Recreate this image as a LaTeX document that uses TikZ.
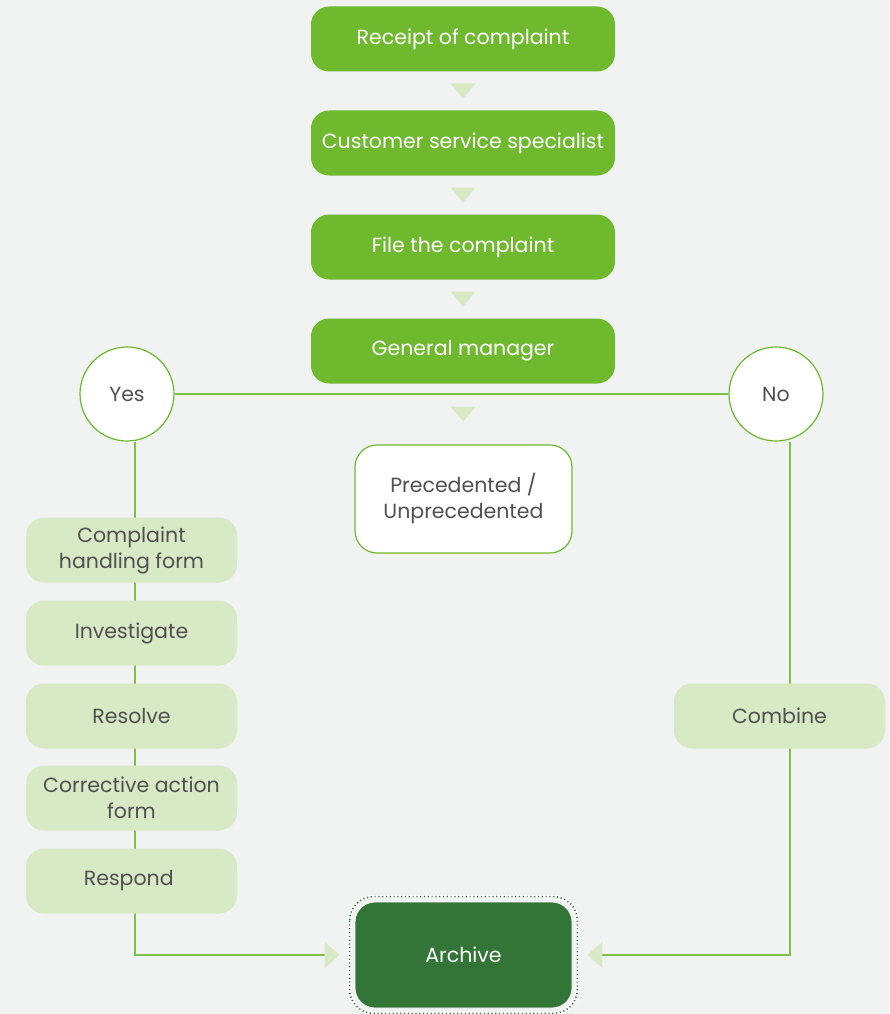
\documentclass[tikz,border=0pt]{standalone}
\usepackage{fontspec}
\setmainfont{Poppins}
\usetikzlibrary{arrows.meta,calc}

\definecolor{bggray}{HTML}{F1F3F2}
\definecolor{leaf}{HTML}{6FB92E}
\definecolor{linegreen}{HTML}{7DC243}
\definecolor{pale}{HTML}{D7E9C5}
\definecolor{forest}{HTML}{337536}
\definecolor{ink}{HTML}{505050}

\pgfdeclarelayer{back}
\pgfdeclarelayer{links}
\pgfsetlayers{back,links,main}

\begin{document}
\begin{tikzpicture}[x=1pt, y=-1pt,
  txt/.style={font=\fontsize{20.5}{26}\selectfont},
  mainbox/.style={txt, rounded corners=18pt, fill=leaf, text=white,
    minimum width=304pt, minimum height=65pt},
  sidebox/.style={txt, rounded corners=18pt, fill=pale, text=ink, align=center,
    minimum width=211pt, minimum height=65pt},
  answer/.style={txt, circle, draw=leaf, line width=1.2pt, fill=white, text=ink,
    minimum size=94pt},
  link/.style={draw=linegreen, line width=1.3pt},
  arrowtip/.style={-{Triangle[length=15pt, width=26pt, color=pale]}, shorten >=15pt}
]

  % page
  \useasboundingbox (0,0) rectangle (889,1014);
  \begin{pgfonlayer}{back}
    \fill[bggray] (0,0) rectangle (889,1014);
  \end{pgfonlayer}

  % main column
  \node[mainbox] (receipt)  at (463,39)  {Receipt of complaint};
  \node[mainbox] (customer) at (463,143) {Customer service specialist};
  \node[mainbox] (file)     at (463,247) {File the complaint};
  \node[mainbox] (manager)  at (463,351) {General manager};

  \node[txt, draw=leaf, line width=1.2pt, fill=white, text=ink, align=center,
    rounded corners=22pt, minimum width=217pt, minimum height=108pt]
    (prec) at (463.5,499) {Precedented /\\Unprecedented};

  % decision
  \node[answer] (yes) at (127,394) {Yes};
  \node[answer] (no)  at (776,394) {No};

  % yes branch
  \foreach \name/\y/\label in {
    form/550/{Complaint\\handling form},
    investigate/633/{Investigate},
    resolve/716/{Resolve},
    action/798/{Corrective action\\form},
    respond/881/{Respond}
  } {
    \node[sidebox] (\name) at (131.5,\y) {\label};
  }

  % no branch
  \node[sidebox] (combine) at (779.5,716) {Combine};

  % end
  \node[mainbox, fill=forest, draw=white, line width=0.8pt, minimum width=217pt,
    minimum height=106pt, rounded corners=20pt] (archive) at (463.5,955) {Archive};
  \draw[white, line width=3.5pt, rounded corners=24pt]
    ($(archive.north west)+(-5,-5)$) rectangle ($(archive.south east)+(5,5)$);
  \draw[forest, line width=1.6pt, dash pattern=on 1.2pt off 2.6pt, rounded corners=24pt]
    ($(archive.north west)+(-5,-5)$) rectangle ($(archive.south east)+(5,5)$);

  % down triangles
  \foreach \a/\b in {receipt/customer, customer/file, file/manager, manager/prec} {
    \fill[pale] ($(\a.south)!0.5!(\b.north)$) +(-12.5,-7.5) -- +(12.5,-7.5) -- +(0,7.5) -- cycle;
  }

  % connectors
  \coordinate (lx) at (135,0);
  \coordinate (rx) at (790,0);
  \begin{pgfonlayer}{links}
    \draw[link] (yes) -- (no);
    \draw[link, arrowtip] (yes.south -| lx) |- (archive.west);
    \draw[link, arrowtip] (no.south -| rx) |- (archive.east);
  \end{pgfonlayer}

\end{tikzpicture}
\end{document}
